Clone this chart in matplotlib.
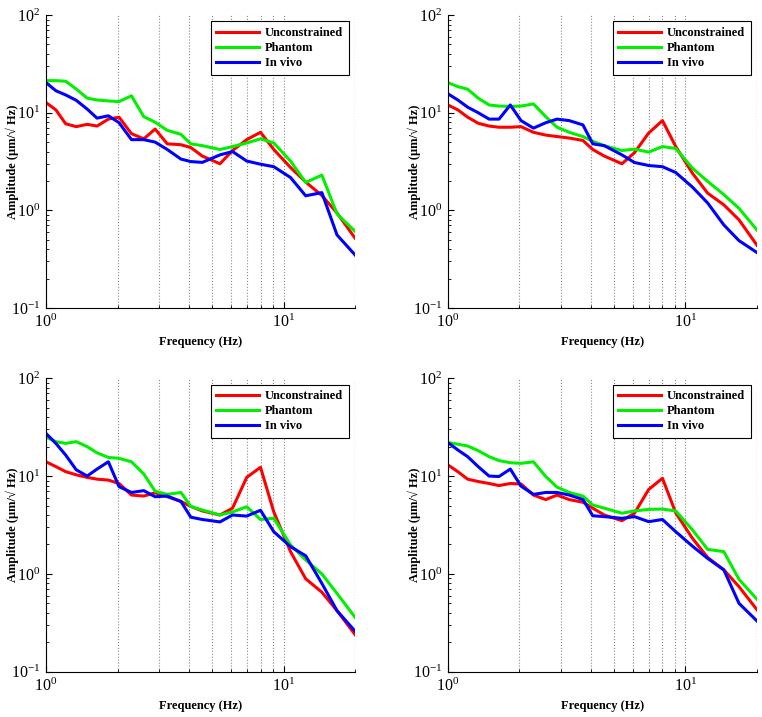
import matplotlib
matplotlib.use("Agg")
import matplotlib.pyplot as plt
from matplotlib.ticker import LogLocator, NullFormatter

plt.rcParams['font.family'] = ['Liberation Serif', 'DejaVu Serif']
plt.rcParams['font.weight'] = 'bold'
plt.rcParams['axes.labelweight'] = 'bold'
plt.rcParams['mathtext.fontset'] = 'stix'

# frequency points (Hz), shared by all panels
FREQ = [1.0, 1.1, 1.21, 1.34, 1.49, 1.64, 1.83, 2.03, 2.29, 2.58, 2.88, 3.24, 3.7,
        4.07, 4.55, 5.4, 6.1, 7.0, 8.0, 9.1, 10.7, 12.4, 14.5, 16.8, 20.0]

LABELS = ['Unconstrained', 'Phantom', 'In vivo']

# panel A (top left)
A_UNCON = [12.7, 10.7, 7.7, 7.2, 7.6, 7.3, 8.6, 9.0, 6.1, 5.4, 6.8, 4.8, 4.7,
           4.4, 3.6, 3.0, 4.1, 5.3, 6.3, 4.2, 2.75, 1.95, 1.42, 0.94, 0.52]
A_PHANTOM = [21.3, 21.3, 21.0, 17.5, 14.1, 13.5, 13.2, 13.0, 14.9, 9.1, 8.0, 6.6, 6.0,
             4.8, 4.6, 4.2, 4.5, 4.9, 5.4, 4.9, 3.2, 1.93, 2.3, 0.92, 0.61]
A_INVIVO = [20.3, 16.8, 15.2, 13.4, 10.9, 8.8, 9.3, 7.9, 5.3, 5.3, 5.0, 4.2, 3.35,
            3.16, 3.1, 3.7, 4.0, 3.2, 2.97, 2.8, 2.17, 1.41, 1.52, 0.56, 0.35]

# panel B (top right)
B_UNCON = [12.0, 10.7, 9.0, 7.8, 7.3, 7.1, 7.1, 7.2, 6.3, 5.9, 5.7, 5.5, 5.2,
           4.2, 3.6, 3.0, 3.9, 6.2, 8.3, 4.5, 2.4, 1.5, 1.14, 0.8, 0.44]
B_PHANTOM = [20.3, 18.5, 17.4, 14.1, 12.0, 11.7, 11.6, 11.7, 12.3, 9.1, 7.1, 6.3, 5.7,
             5.1, 4.6, 4.1, 4.24, 3.95, 4.5, 4.3, 2.7, 1.98, 1.45, 1.05, 0.63]
B_INVIVO = [15.6, 13.5, 11.4, 10.0, 8.6, 8.6, 12.0, 8.3, 6.95, 7.9, 8.6, 8.3, 7.5,
            4.8, 4.6, 3.7, 3.09, 2.88, 2.8, 2.44, 1.73, 1.19, 0.71, 0.49, 0.37]

# panel C (bottom left)
C_UNCON = [14.0, 12.5, 11.1, 10.3, 9.7, 9.3, 9.1, 8.4, 6.4, 6.25, 6.75, 6.15, 5.5,
           4.9, 4.4, 4.0, 4.7, 9.7, 12.3, 4.3, 1.69, 0.89, 0.65, 0.42, 0.24]
C_PHANTOM = [25.0, 22.5, 21.6, 22.5, 20.0, 17.3, 15.5, 15.2, 14.0, 10.5, 7.0, 6.5, 6.8,
             4.9, 4.5, 4.0, 4.3, 4.86, 3.6, 3.7, 1.98, 1.39, 1.0, 0.63, 0.36]
C_INVIVO = [27.3, 21.6, 16.4, 11.6, 10.0, 11.8, 14.0, 7.8, 6.8, 7.1, 6.15, 6.25, 5.5,
            3.8, 3.6, 3.4, 4.0, 3.9, 4.47, 2.7, 1.9, 1.53, 0.8, 0.42, 0.26]

# panel D (bottom right)
D_UNCON = [13.0, 11.1, 9.3, 8.8, 8.4, 8.0, 8.4, 8.3, 6.4, 5.75, 6.4, 5.75, 5.4,
           4.7, 4.0, 3.5, 4.17, 7.3, 9.5, 4.2, 2.31, 1.47, 1.1, 0.74, 0.43]
D_PHANTOM = [22.0, 21.2, 20.3, 18.2, 15.8, 14.4, 13.7, 13.5, 14.0, 9.9, 7.7, 6.8, 6.25,
             5.06, 4.7, 4.17, 4.4, 4.57, 4.6, 4.4, 2.82, 1.78, 1.69, 0.88, 0.55]
D_INVIVO = [22.0, 18.5, 15.8, 12.5, 10.0, 9.9, 11.8, 7.9, 6.5, 6.8, 6.8, 6.4, 5.76,
            3.93, 3.85, 3.7, 3.85, 3.42, 3.6, 2.7, 1.92, 1.44, 1.1, 0.5, 0.33]

panels = [
    (A_UNCON, A_PHANTOM, A_INVIVO),
    (B_UNCON, B_PHANTOM, B_INVIVO),
    (C_UNCON, C_PHANTOM, C_INVIVO),
    (D_UNCON, D_PHANTOM, D_INVIVO),
]
colors = ['#ff0000', '#00f000', '#0000ff']

# axes boxes in figure fractions: left, bottom, width, height
boxes = [
    (0.0604, 0.5704, 0.4055, 0.4086),
    (0.5879, 0.5704, 0.4055, 0.4086),
    (0.0604, 0.0632, 0.4055, 0.4092),
    (0.5879, 0.0632, 0.4055, 0.4092),
]

fig = plt.figure(figsize=(7.62, 7.17), dpi=100)

for box, series in zip(boxes, panels):
    ax = fig.add_axes(box)
    for vals, lab, c in zip(series, LABELS, colors):
        ax.plot(FREQ, vals, color=c, lw=2.2, label=lab)
    ax.set_xscale('log')
    ax.set_yscale('log')
    ax.set_xlim(1, 20)
    ax.set_ylim(0.1, 100)

    ax.xaxis.set_minor_locator(LogLocator(base=10, subs=range(2, 10)))
    ax.xaxis.set_minor_formatter(NullFormatter())
    ax.yaxis.set_minor_locator(LogLocator(base=10, subs=range(2, 10)))
    ax.yaxis.set_minor_formatter(NullFormatter())
    ax.grid(True, which='both', axis='x', color='#8a8a8a', linestyle=':', lw=0.8)
    ax.axvline(20, color='#8a8a8a', linestyle=':', lw=0.8)

    ax.spines['top'].set_visible(False)
    ax.spines['right'].set_visible(False)
    ax.tick_params(which='both', direction='in', top=False, right=False, labelsize=11.5)
    ax.tick_params(which='major', length=4, pad=4)
    ax.tick_params(which='minor', length=2.5)
    for t in ax.get_xticklabels() + ax.get_yticklabels():
        t.set_fontweight('normal')

    ax.set_xlabel('Frequency (Hz)', fontsize=9)
    ax.set_ylabel('Amplitude (μm/√ Hz)', fontsize=9)
    ax.yaxis.set_label_coords(-0.088, 0.5)
    ax.xaxis.set_label_coords(0.5, -0.097)

    leg = ax.legend(loc='upper right', fontsize=9, handlelength=3.4,
                    handletextpad=0.5, labelspacing=0.25, borderaxespad=0.5,
                    fancybox=False, framealpha=1, borderpad=0.45)
    leg.get_frame().set_edgecolor('black')
    leg.get_frame().set_linewidth(0.8)

fig.savefig('out.png', dpi=100)
